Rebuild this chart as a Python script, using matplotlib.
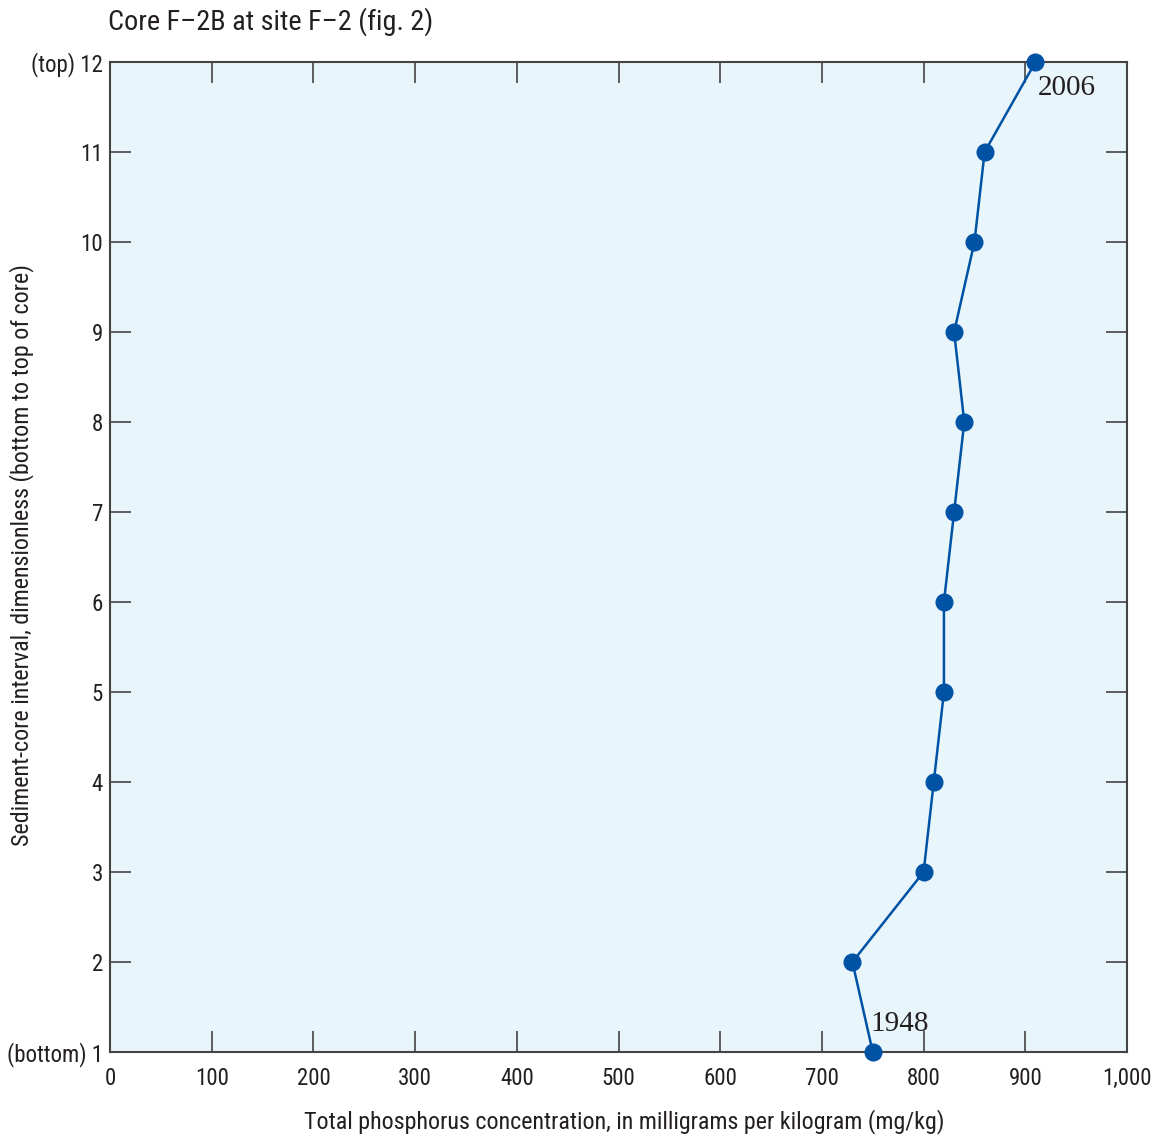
import matplotlib
matplotlib.use("Agg")
from matplotlib import pyplot as plt

# sediment-core interval (bottom to top) and total phosphorus, mg/kg
intervals = [1, 2, 3, 4, 5, 6, 7, 8, 9, 10, 11, 12]
phosphorus = [750, 730, 800, 810, 820, 820, 830, 840, 830, 850, 860, 910]
x_ticks = [0, 100, 200, 300, 400, 500, 600, 700, 800, 900, 1000]
x_labels = ["0", "100", "200", "300", "400", "500", "600", "700", "800", "900", "1,000"]
y_labels = ["(bottom) 1", "2", "3", "4", "5", "6", "7", "8", "9", "10", "11", "(top) 12"]

SANS = ["Roboto Condensed", "DejaVu Sans"]
SERIF = ["Liberation Serif", "DejaVu Serif"]
LINE_BLUE = "#0052a5"
TEXT = "#231f20"

plt.rcParams["font.family"] = SANS

fig = plt.figure(figsize=(11.56, 11.37), dpi=100)
ax = fig.add_axes([110 / 1156, 85 / 1137, 1017 / 1156, 990 / 1137])
ax.set_facecolor("#e8f5fb")

ax.plot(phosphorus, intervals, color=LINE_BLUE, lw=1.8, marker="o", ms=12,
        markerfacecolor=LINE_BLUE, markeredgecolor=LINE_BLUE, clip_on=False, zorder=3)

ax.set_xlim(0, 1000)
ax.set_ylim(1, 12)
ax.set_xticks(x_ticks)
ax.set_xticklabels(x_labels)
ax.set_yticks(intervals)
ax.set_yticklabels(y_labels)

ax.tick_params(direction="in", length=15, width=1.2, color="#444444",
               top=True, right=True, labelsize=16.5, labelcolor=TEXT, pad=5)
ax.tick_params(axis="x", pad=11)
for side in ax.spines.values():
    side.set_linewidth(1.5)
    side.set_color("#444444")

ax.set_xlabel("Total phosphorus concentration, in milligrams per kilogram (mg/kg)",
              fontsize=17.3, color=TEXT, va="center")
ax.xaxis.set_label_coords(0.506, -0.0707)
ax.set_ylabel("Sediment-core interval, dimensionless (bottom to top of core)",
              fontsize=17.3, color=TEXT, va="center")
ax.yaxis.set_label_coords(-0.0865, 0.502)

# first and last interval dates
ax.annotate("2006", (phosphorus[-1], intervals[-1]), xytext=(2, -9),
            textcoords="offset points", fontsize=21, family=SERIF, color=TEXT,
            va="top", ha="left")
ax.annotate("1948", (phosphorus[0], intervals[0]), xytext=(-1.5, 11),
            textcoords="offset points", fontsize=21, family=SERIF, color=TEXT,
            va="bottom", ha="left")

fig.text(108 / 1156, 1 - 22 / 1137, "Core F\u20132B at site F\u20132 (fig. 2)", fontsize=20.3,
         color=TEXT, ha="left", va="center")

fig.savefig("out.png", dpi=100)
